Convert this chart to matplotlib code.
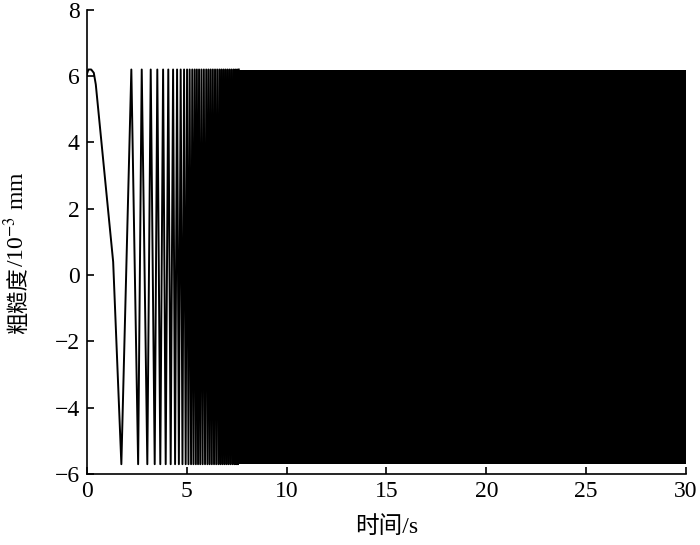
import matplotlib
matplotlib.use("Agg")
import matplotlib.pyplot as plt
import numpy as np

# ---- data ----
# initial slow part of the signal (time s, roughness 1e-3 mm)
start_t = [0.0, 0.08, 0.22, 0.35, 0.45, 1.32, 1.73]
start_v = [6.05, 6.2, 6.2, 6.1, 5.75, 0.4, -5.7]
# times of the following peaks and troughs (estimated)
peak_t = [2.23, 2.75, 3.20, 3.53, 3.82, 4.08, 4.32, 4.52, 4.70, 4.87, 5.02,
          5.15, 5.28, 5.40, 5.51, 5.62, 5.74, 5.86, 5.98, 6.09, 6.20, 6.31,
          6.42, 6.53, 6.64, 6.74, 6.84, 6.94, 7.04, 7.14, 7.24, 7.34, 7.43,
          7.52, 7.61]
trough_t = [2.57, 3.03, 3.40, 3.68, 3.95, 4.20, 4.42, 4.61, 4.79, 4.95, 5.09,
            5.22, 5.34, 5.46, 5.57, 5.68, 5.80, 5.92, 6.04, 6.15, 6.26, 6.37,
            6.48, 6.59, 6.69, 6.79, 6.89, 6.99, 7.09, 7.19, 7.29, 7.39, 7.48,
            7.57]
peak_v = 6.2
trough_v = -5.7
# dense oscillation region (appears as a solid band)
band_t = [7.61, 30.0]

xticks = [0, 5, 10, 15, 20, 25, 30]
yticks = [-6, -4, -2, 0, 2, 4, 6, 8]

# ---- build line ----
t = list(start_t)
v = list(start_v)
for i, p in enumerate(peak_t):
    t.append(p); v.append(peak_v)
    if i < len(trough_t):
        t.append(trough_t[i]); v.append(trough_v)

fams = ['Liberation Serif', 'Noto Sans CJK SC', 'DejaVu Serif']
plt.rcParams['font.family'] = fams
plt.rcParams['mathtext.fontset'] = 'stix'
plt.rcParams['axes.unicode_minus'] = True

fig = plt.figure(figsize=(7.0, 5.45), dpi=100)
ax = fig.add_axes([0.124, 0.130, 0.856, 0.852])

ax.plot(t, v, color='black', lw=1.4, solid_joinstyle='round')
ax.fill_between(band_t, [trough_v, trough_v], [peak_v, peak_v],
                color='black', lw=0)

ax.set_xlim(0, 30)
ax.set_ylim(-6, 8)
ax.set_xticks(xticks)
ax.set_yticks(yticks)
ax.spines['top'].set_visible(False)
ax.spines['right'].set_visible(False)
for s in ['left', 'bottom']:
    ax.spines[s].set_linewidth(1.2)
ax.tick_params(direction='in', length=5, width=1.2, labelsize=17, pad=5)

ax.set_xlabel('时间/s', fontsize=17, labelpad=10, family=fams)

# y label in two parts: Chinese text + math superscript part
ax.text(-0.113, 0.445, '粗糙度', rotation=90, ha='center', va='top',
        transform=ax.transAxes, fontsize=16, family=['Noto Sans CJK SC'])
ax.text(-0.118, 0.447, '/10$^{-3}$ mm', rotation=90, ha='center', va='bottom',
        transform=ax.transAxes, fontsize=17, family=fams)

fig.savefig('out.png', dpi=100)
